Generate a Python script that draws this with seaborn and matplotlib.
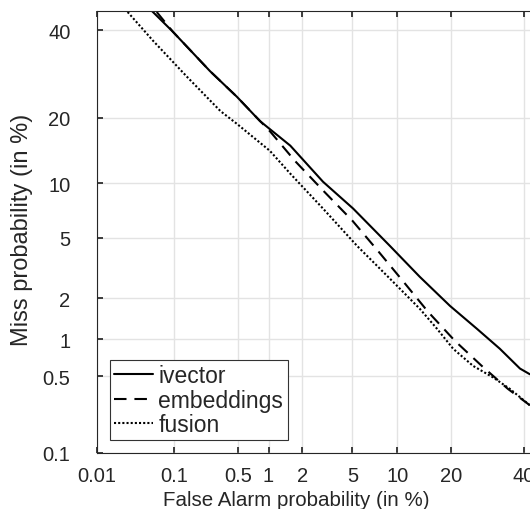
#!/usr/bin/env python3
from statistics import NormalDist
import seaborn as sns
import matplotlib.pyplot as plt
import numpy as np
import pandas as pd

# DET curve points, both axes in percent
ivector_fa = [0.053, 0.096, 0.254, 0.49, 0.83, 1.58, 2.98, 5.06, 9.0, 13.6, 19.7, 26.3, 32.7, 38.8, 41.9]
ivector_miss = [45.1, 39.6, 29.9, 24.2, 19.4, 15.2, 10.2, 7.35, 4.45, 2.82, 1.77, 1.20, 0.84, 0.58, 0.52]

embed_fa = [0.061, 0.096, 0.254, 0.49, 0.71, 1.03, 1.74, 2.98, 4.98, 7.5, 10.9, 15.1, 20.8, 27.6, 35.1, 41.9]
embed_miss = [44.8, 39.6, 29.9, 24.2, 20.8, 17.6, 12.9, 9.2, 6.3, 4.16, 2.62, 1.61, 0.97, 0.61, 0.39, 0.28]

fusion_fa = [0.026, 0.055, 0.14, 0.33, 0.49, 1.03, 1.58, 2.98, 5.4, 9.0, 13.6, 16.9, 20.4, 25.3, 30.7, 35.7, 41.9]
fusion_miss = [44.8, 37.3, 28.6, 21.3, 18.9, 14.4, 11.2, 7.35, 4.45, 2.74, 1.69, 1.20, 0.84, 0.61, 0.49, 0.39, 0.28]

systems = ["ivector", "embeddings", "fusion"]
x_ticks = [0.01, 0.1, 0.5, 1, 2, 5, 10, 20, 40]
x_labels = ["0.01", "0.1", "0.5", "1", "2", "5", "10", "20", "40"]
y_ticks = [0.1, 0.5, 1, 2, 5, 10, 20, 40]
y_labels = ["0.1", "0.5", "1", "2", "5", "10", "20", "40"]

nd = NormalDist()


def probit(pct):
    # normal deviate scale used by DET plots
    return np.array([nd.inv_cdf(p / 100.0) for p in np.atleast_1d(pct)])


frames = []
for name, fa, miss in zip(systems, [ivector_fa, embed_fa, fusion_fa],
                          [ivector_miss, embed_miss, fusion_miss]):
    frames.append(pd.DataFrame({"fa": probit(fa), "miss": probit(miss), "system": name}))
df = pd.concat(frames, ignore_index=True)

sns.set_theme(style="ticks")
plt.rcParams["font.family"] = ["Liberation Sans", "DejaVu Sans"]

fig = plt.figure(figsize=(5.3, 5.1), dpi=100)
ax = fig.add_axes([0.183, 0.110, 0.835, 0.866])

sns.lineplot(data=df, x="fa", y="miss", hue="system", style="system",
             palette=["black"] * 3,
             dashes={"ivector": "", "embeddings": (6, 3.8), "fusion": (1, 1)},
             linewidth=1.5, sort=False, estimator=None, legend=False, ax=ax)

ax.set_xlim(probit(0.01)[0], probit(45)[0])
ax.set_ylim(probit(0.1)[0], probit(45)[0])
ax.set_xticks(probit(x_ticks))
ax.set_xticklabels(x_labels)
ax.set_yticks(probit(y_ticks))
ax.set_yticklabels(y_labels)
ax.grid(True, color="#e3e3e3", linewidth=1.0)
ax.tick_params(direction="in", length=4, color="#262626", labelsize=14.5,
               labelcolor="#262626", top=True, right=True)
ax.tick_params(axis="x", pad=9.5)
ax.tick_params(axis="y", pad=19)
for s in ax.spines.values():
    s.set_color("#262626")
    s.set_linewidth(0.8)

ax.set_xlabel("False Alarm probability (in %)", fontsize=14.8, color="#262626")
ax.set_ylabel("Miss probability (in %)", fontsize=17, color="#262626")
ax.xaxis.set_label_coords(0.45, -0.085)
ax.yaxis.set_label_coords(-0.145, 0.507)

leg = ax.legend(handles=ax.lines[:3], labels=systems, loc="lower left",
                fontsize=16.5, handlelength=1.7, handletextpad=0.22,
                borderaxespad=0.55, borderpad=0.2, labelspacing=0.05,
                fancybox=False, framealpha=1, edgecolor="#333333")
leg.get_frame().set_linewidth(0.8)

plt.savefig("out.png", dpi=100)
